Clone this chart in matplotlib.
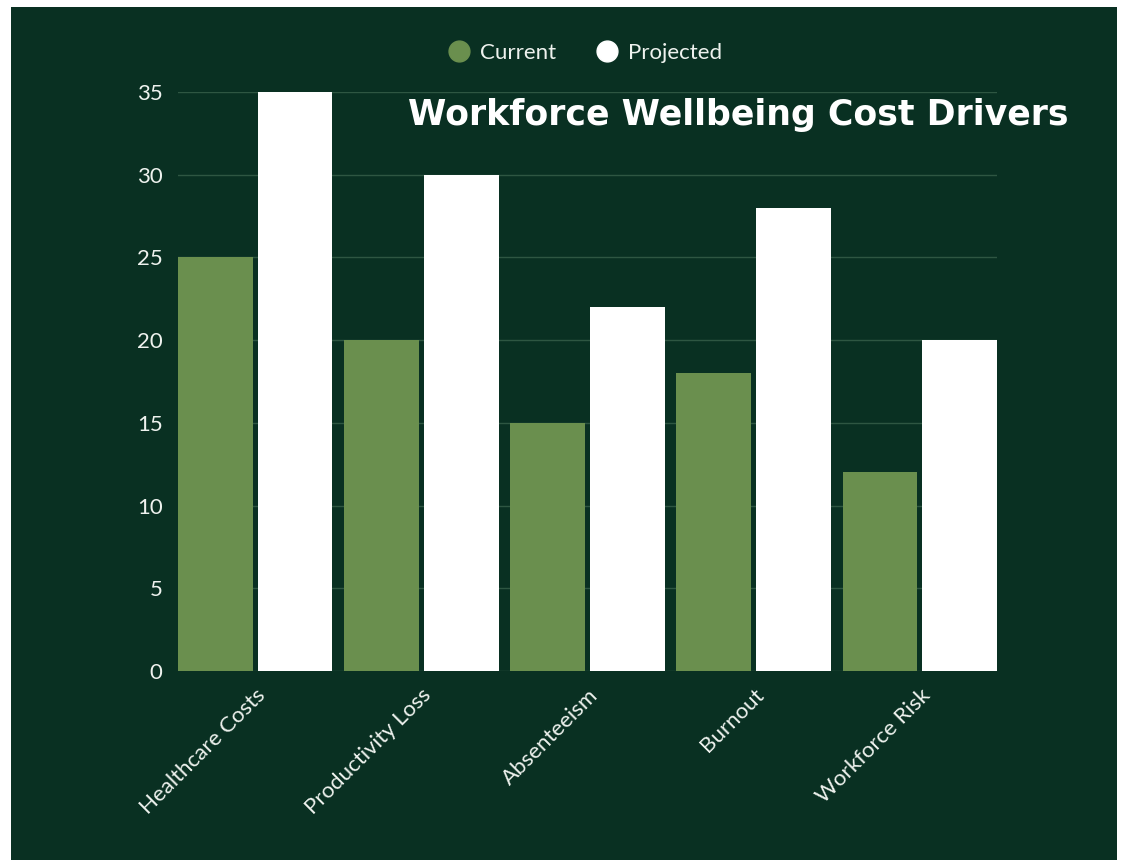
import matplotlib.pyplot as plt
import numpy as np
from matplotlib.lines import Line2D
from matplotlib.patches import Rectangle

# data
categories = ['Healthcare Costs', 'Productivity Loss', 'Absenteeism', 'Burnout', 'Workforce Risk']
current = [25, 20, 15, 18, 12]
projected = [35, 30, 22, 28, 20]
yticks = [0, 5, 10, 15, 20, 25, 30, 35]

bg = '#093022'
green = '#6a8f4e'
txt = '#eef2ee'

plt.rcParams['font.family'] = ['Lato', 'DejaVu Sans']

fig = plt.figure(figsize=(11.22, 8.6), dpi=100, facecolor='white')
# dark panel with thin white border
fig.patches.append(Rectangle((11/1122, 0), 1106/1122, 853/860, transform=fig.transFigure,
                             facecolor=bg, edgecolor='none', zorder=-5))

ax = fig.add_axes([178/1122, 1 - 671/860, 819/1122, 579/860])
ax.set_facecolor(bg)

x = np.arange(len(categories))
w = 0.45
off = 0.24
ax.bar(x - off, current, w, color=green, zorder=3)
ax.bar(x + off, projected, w, color='white', zorder=3)

ax.set_xlim(x[0] - off - w / 2, x[-1] + off + w / 2)
ax.set_ylim(0, 35)
ax.set_yticks(yticks)
ax.set_xticks(x)
ax.set_xticklabels(categories, rotation=45, ha='right', rotation_mode='anchor')
ax.tick_params(axis='both', length=0, colors=txt, labelsize=16)
ax.tick_params(axis='y', pad=11)
ax.tick_params(axis='x', pad=10)
ax.yaxis.grid(True, color='#2e5642', linewidth=1)
ax.set_axisbelow(True)
for s in ax.spines.values():
    s.set_visible(False)

# legend with circle markers
handles = [Line2D([], [], marker='o', linestyle='', markersize=15, color=green),
           Line2D([], [], marker='o', linestyle='', markersize=15, color='white')]
ax.legend(handles, ['Current', 'Projected'], loc='center', bbox_to_anchor=(0.497, 1.067),
          ncol=2, frameon=False, fontsize=16, handlelength=1, columnspacing=1.75,
          handletextpad=0.45, labelcolor=txt)

fig.text(1068/1122, 1 - 115/860, 'Workforce Wellbeing Cost Drivers', ha='right', va='center',
         color='white', fontsize=25, fontweight='bold', family=['DejaVu Sans'])

fig.savefig('out.png', dpi=100, facecolor='white')
